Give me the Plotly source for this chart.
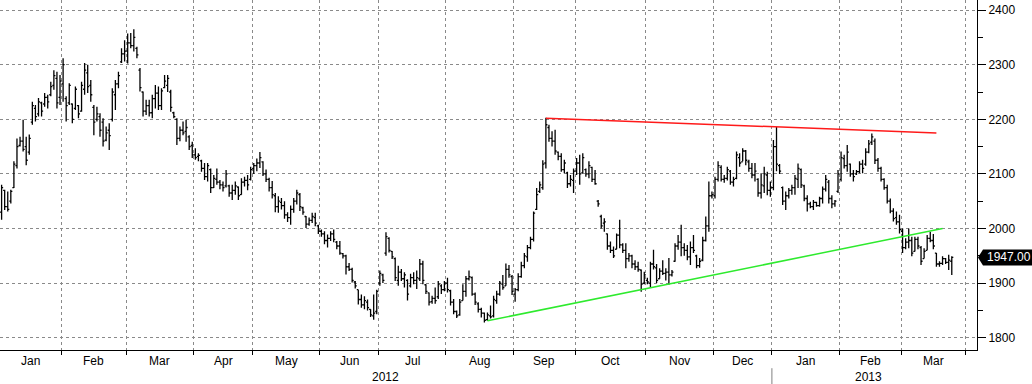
import pandas as pd
import plotly.graph_objects as go

# ---------------- data (LME-style daily OHLC) ----------------
first_day = "2012-01-04"
last_day = "2013-03-25"
uk_holidays = ["2012-04-06", "2012-04-09", "2012-05-07", "2012-06-04", "2012-06-05",
               "2012-08-27", "2012-12-25", "2012-12-26", "2013-01-01"]

open_ = [
    2030,2070,2040,2050,2075,2115,2152,2160,2150,2140,2195,2220,2210,2230,2228,2240,2245,2262,2275,2240,
    2265,2238,2230,2228,2220,2225,2215,2255,2285,2262,2222,2200,2205,2195,2162,2180,2200,2245,2265,2305,2320,
    2325,2340,2335,2330,2290,2250,2215,2225,2212,2238,2248,2225,2258,2262,2250,2212,2200,2165,2180,2178,2168,2152,
    2135,2132,2124,2110,2095,2108,2075,2090,2085,2080,2078,2078,2065,2070,2076,2062,2085,2088,2090,
    2110,2115,2120,2122,2100,2090,2075,2060,2040,2048,2042,2025,2020,2035,2050,2062,2038,2022,2008,2015,2020,2005,
    1995,1990,1978,1982,1990,1975,1968,1954,1950,1930,1925,1902,1888,1870,1860,1865,1852,1840,1848,
    1900,1915,1955,1982,1958,1945,1905,1920,1908,1905,1895,1910,1905,1908,1935,1897,1882,1866,1872,1875,1895,1888,
    1900,1886,1865,1848,1842,1868,1885,1908,1910,1880,1862,1852,1845,1833,1840,1840,1868,1880,1898,1895,1925,1912,
    1880,1888,1912,1932,1948,1965,1980,2035,2068,2075,2120,2185,2165,2160,2140,2132,2108,2102,2082,2088,
    2105,2120,2102,2108,2100,2112,2090,2050,2022,2010,1990,1968,1960,1962,1988,1970,1960,1945,1950,1935,1930,1924,1900,
    1905,1900,1935,1928,1908,1922,1918,1920,1915,1940,1968,1975,1965,1960,1948,1965,1950,1932,1942,1978,2005,2060,
    2060,2090,2112,2090,2092,2105,2085,2092,2130,2122,2142,2122,2110,2098,2090,2065,2078,2098,2070,
    2075,2150,2115,2075,2050,2060,2070,2075,2090,2108,2078,2055,2045,2040,2048,2042,2055,2072,2085,2055,2045,2068,
    2090,2128,2115,2118,2100,2100,2104,2118,2118,2140,2158,2160,2125,2110,2090,2075,2050,2032,2020,2012,
    1995,1965,1975,1978,1958,1980,1965,1945,1960,1982,1978,1955,1935,1936,1945,1938,1940,
]
high = [
    2080,2071,2068,2071,2123,2165,2168,2199,2168,2172,2232,2226,2239,2232,2248,2245,2269,2290,2287,2281,
    2312,2242,2266,2229,2260,2226,2269,2303,2300,2272,2226,2223,2211,2202,2187,2193,2257,2272,2287,2330,2345,
    2357,2358,2365,2333,2294,2251,2236,2236,2245,2263,2260,2257,2281,2281,2254,2214,2202,2187,2196,2199,2171,2159,
    2147,2138,2126,2120,2120,2110,2098,2110,2089,2086,2107,2080,2080,2086,2077,2092,2095,2098,2113,
    2120,2128,2140,2123,2108,2093,2087,2065,2059,2056,2050,2030,2042,2056,2071,2065,2040,2023,2020,2029,2029,2007,
    1998,1995,1989,1995,1998,1977,1977,1955,1952,1937,1928,1904,1888,1879,1876,1870,1852,1879,1888,
    1923,1917,1993,1984,1959,1947,1932,1926,1920,1907,1917,1920,1923,1944,1941,1898,1883,1877,1892,1904,1898,1904,
    1910,1888,1871,1850,1871,1898,1913,1923,1912,1883,1865,1855,1846,1846,1859,1877,1886,1904,1915,1936,1933,1915,
    1891,1918,1939,1955,1970,1985,2031,2074,2086,2125,2203,2190,2178,2181,2141,2138,2126,2104,2098,2110,
    2129,2135,2138,2110,2123,2113,2107,2052,2025,2019,1991,1976,1967,1991,2016,1973,1973,1955,1952,1942,1939,1925,1921,
    1910,1939,1961,1935,1927,1942,1927,1946,1924,1973,1988,2007,1973,1970,1976,1988,1952,1946,1985,2022,2086,2068,
    2095,2123,2116,2098,2113,2107,2095,2141,2138,2147,2144,2126,2120,2120,2092,2101,2113,2104,2086,
    2162,2186,2118,2077,2068,2074,2080,2098,2119,2110,2080,2061,2049,2052,2049,2058,2077,2098,2089,2061,2052,2107,
    2141,2135,2153,2119,2107,2107,2123,2126,2147,2162,2174,2165,2129,2113,2092,2080,2055,2037,2031,2025,
    2000,1982,2000,1985,1985,1985,1968,1964,1988,1994,1990,1955,1940,1949,1946,1952,1949,
]
low = [
    2016,2034,2031,2046,2074,2110,2150,2141,2116,2135,2190,2196,2205,2205,2223,2220,2242,2254,2220,2226,
    2232,2196,2226,2193,2217,2202,2214,2245,2248,2232,2171,2196,2168,2150,2160,2144,2196,2217,2257,2303,2306,
    2302,2330,2324,2312,2251,2205,2208,2205,2202,2220,2217,2217,2257,2250,2214,2202,2153,2160,2171,2159,2144,2129,
    2126,2123,2104,2089,2086,2065,2074,2080,2072,2068,2075,2058,2052,2062,2052,2062,2077,2070,2088,
    2100,2105,2111,2096,2085,2068,2055,2030,2029,2035,2018,2012,2007,2029,2044,2032,2025,2001,2005,2010,2004,1990,
    1985,1971,1965,1977,1975,1962,1952,1945,1916,1922,1901,1890,1861,1855,1852,1850,1838,1833,1843,
    1895,1900,1950,1956,1944,1904,1895,1904,1892,1868,1892,1898,1889,1904,1898,1880,1859,1862,1862,1871,1880,1885,
    1883,1859,1843,1836,1840,1868,1875,1905,1877,1860,1846,1837,1828,1831,1835,1837,1862,1877,1888,1895,1910,1878,
    1866,1885,1910,1927,1939,1962,1976,2034,2065,2071,2110,2159,2150,2135,2125,2104,2101,2074,2077,2065,
    2098,2080,2101,2095,2092,2085,2080,2040,2000,1994,1961,1955,1946,1962,1964,1955,1927,1939,1927,1924,1921,1884,1898,
    1898,1891,1925,1900,1908,1915,1905,1897,1912,1939,1961,1949,1950,1942,1933,1955,1927,1928,1940,1976,1994,2055,
    2055,2086,2086,2084,2088,2080,2077,2090,2113,2123,2116,2104,2092,2086,2058,2055,2065,2061,2058,
    2070,2105,2100,2043,2034,2055,2062,2062,2074,2074,2050,2031,2037,2034,2040,2040,2046,2068,2046,2037,2040,2065,
    2086,2110,2104,2095,2086,2098,2101,2101,2115,2138,2153,2118,2104,2086,2071,2046,2028,2013,2007,1991,
    1955,1962,1964,1949,1958,1962,1933,1945,1960,1975,1962,1930,1930,1933,1935,1924,1915,
]
close = [
    2075,2040,2035,2068,2118,2150,2160,2145,2125,2165,2225,2205,2232,2215,2240,2232,2260,2280,2230,2270,
    2300,2225,2262,2200,2255,2210,2262,2290,2260,2245,2195,2210,2180,2160,2175,2170,2250,2265,2280,2320,2325,
    2340,2335,2350,2318,2258,2215,2225,2212,2238,2248,2225,2252,2270,2275,2222,2205,2165,2180,2175,2185,2150,2135,
    2130,2134,2110,2095,2115,2075,2092,2085,2080,2075,2100,2065,2070,2078,2060,2085,2088,2080,2108,
    2115,2120,2130,2100,2090,2075,2062,2040,2050,2042,2025,2020,2035,2050,2065,2040,2030,2008,2015,2022,2010,1995,
    1990,1978,1982,1990,1980,1968,1955,1950,1930,1925,1905,1895,1870,1860,1868,1855,1842,1845,1885,
    1918,1905,1985,1960,1948,1910,1920,1908,1915,1880,1910,1905,1910,1935,1905,1885,1865,1872,1868,1898,1888,1900,
    1888,1865,1848,1840,1865,1885,1908,1912,1880,1865,1852,1845,1832,1842,1838,1870,1880,1900,1892,1925,1915,1885,
    1888,1912,1932,1950,1965,1980,2028,2062,2080,2118,2190,2165,2160,2142,2132,2108,2120,2082,2090,2105,
    2120,2100,2130,2100,2115,2090,2082,2045,2005,2012,1968,1960,1950,1988,1970,1960,1945,1950,1935,1930,1925,1898,1915,
    1902,1935,1930,1905,1922,1918,1920,1915,1920,1968,1975,1965,1960,1948,1965,1960,1932,1940,1978,2005,2060,2062,
    2090,2115,2090,2092,2108,2085,2090,2135,2120,2142,2125,2110,2098,2105,2065,2080,2100,2070,2075,
    2150,2118,2105,2050,2060,2070,2075,2092,2110,2080,2055,2045,2040,2048,2042,2055,2072,2090,2055,2045,2050,2100,
    2130,2115,2140,2100,2095,2104,2118,2110,2140,2155,2168,2125,2110,2090,2075,2050,2032,2018,2012,1998,
    1965,1975,1978,1955,1980,1968,1940,1958,1982,1978,1968,1935,1936,1945,1938,1942,1947,
]

month_labels = ["Jan", "Feb", "Mar", "Apr", "May", "Jun", "Jul", "Aug", "Sep", "Oct",
                "Nov", "Dec", "Jan", "Feb", "Mar"]
year_labels = ["2012", "2013"]
y_ticks = [1800, 1900, 2000, 2100, 2200, 2300, 2400]

red_trend_dates = ["2012-09-17", "2013-03-18"]
red_trend_values = [2202, 2175]
green_trend_dates = ["2012-08-20", "2013-03-20"]
green_trend_values = [1831, 2000]

# ---------------- calendar / axis helpers ----------------
dates = pd.bdate_range(first_day, last_day, freq="C", holidays=uk_holidays)
future = pd.bdate_range("2013-03-26", "2013-04-30")
calendar = dates.append(future)
pos = {d: i for i, d in enumerate(calendar)}
n = min(len(close), len(open_), len(high), len(low))
x = list(range(n))

x_left, x_right = -0.52, 317.2
y_lo, y_hi = 1777.5, 2418.5
px_per_day = 976.7 / (x_right - x_left)

bounds = [i - 0.5 for i in range(1, len(calendar))
          if calendar[i].month != calendar[i - 1].month]
edges = [x_left] + bounds
month_centers = [(edges[k] + edges[k + 1]) / 2 for k in range(len(month_labels))]
year_break = [b for b in bounds if calendar[int(b + 0.5)].year != calendar[int(b - 0.5)].year][0]
year_centers = [(x_left + year_break) / 2, (year_break + bounds[len(month_labels) - 1]) / 2]

def xpaper(v):
    return (v - x_left) / (x_right - x_left)

def ypaper(v):
    return (v - y_lo) / (y_hi - y_lo)

FONT = "Liberation Sans, Arial, sans-serif"
GRID = "#8a8a8a"

fig = go.Figure()
fig.add_trace(go.Ohlc(
    x=x, open=open_[:n], high=high[:n], low=low[:n], close=close[:n],
    increasing=dict(line=dict(color="black", width=1.3)),
    decreasing=dict(line=dict(color="black", width=1.3)),
    tickwidth=0.5, showlegend=False, hoverinfo="skip",
))
fig.add_trace(go.Scatter(
    x=[pos[pd.Timestamp(d)] for d in red_trend_dates], y=red_trend_values,
    mode="lines", line=dict(color="#ff1a1a", width=1.5), showlegend=False, hoverinfo="skip",
))
fig.add_trace(go.Scatter(
    x=[pos[pd.Timestamp(d)] for d in green_trend_dates], y=green_trend_values,
    mode="lines", line=dict(color="#2eea2e", width=1.5), showlegend=False, hoverinfo="skip",
))
# arrow-head tick markers on the right axis (Bloomberg style)
fig.add_trace(go.Scatter(
    x=[x_right + 5.5 / px_per_day] * len(y_ticks), y=y_ticks, mode="markers",
    marker=dict(symbol="triangle-right", size=7, color="black", line=dict(width=0)),
    cliponaxis=False, showlegend=False, hoverinfo="skip",
))

fig.update_layout(
    width=1032, height=384,
    margin=dict(l=0, r=55, t=0, b=34, pad=0),
    paper_bgcolor="white", plot_bgcolor="white",
    font=dict(family=FONT, size=12, color="black"),
    showlegend=False,
)
fig.update_xaxes(
    range=[x_left, x_right], tickmode="array", tickvals=bounds, showticklabels=False,
    ticks="outside", ticklen=4, tickcolor="black", tickwidth=1,
    showgrid=True, gridcolor=GRID, griddash="dot", gridwidth=1,
    showline=True, linecolor="black", linewidth=1, zeroline=False,
    rangeslider=dict(visible=False), fixedrange=True,
)
fig.update_yaxes(
    side="right", range=[y_lo, y_hi], tickmode="array", tickvals=y_ticks,
    ticktext=[str(v) for v in y_ticks],
    ticks="outside", ticklen=8, tickwidth=1, tickcolor="black",
    tickfont=dict(family=FONT, size=12, color="black"),
    showgrid=True, gridcolor=GRID, griddash="dot", gridwidth=1,
    showline=True, linecolor="black", linewidth=1, zeroline=False,
    minor=dict(tickmode="linear", tick0=1850, dtick=100, ticks="outside", ticklen=5,
               tickcolor="black", tickwidth=1, showgrid=False),
    fixedrange=True,
)

# month labels
for c, lab in zip(month_centers, month_labels):
    fig.add_annotation(x=xpaper(c), y=-0.031, xref="paper", yref="paper", text=lab,
                       showarrow=False, xanchor="center", yanchor="middle",
                       font=dict(family=FONT, size=12, color="black"))
for c, lab in zip(year_centers, year_labels):
    fig.add_annotation(x=xpaper(c), y=-0.076, xref="paper", yref="paper", text=lab,
                       showarrow=False, xanchor="center", yanchor="middle",
                       font=dict(family=FONT, size=12, color="black"))
# year separator below the axis
fig.add_shape(type="line", xref="paper", yref="paper",
              x0=xpaper(year_break), x1=xpaper(year_break), y0=-0.052, y1=-0.11,
              line=dict(color="#808080", width=1))

# last-price tag
last = close[n - 1]
fig.add_shape(type="path", xref="paper", yref="paper", xsizemode="pixel", ysizemode="pixel",
              xanchor=1, yanchor=ypaper(last),
              path="M 1 0 L 6 8 L 56 8 L 56 -8 L 6 -8 Z",
              fillcolor="black", line=dict(width=0), layer="above")
fig.add_annotation(x=1, y=ypaper(last), xref="paper", yref="paper", text=f"{last:.2f}",
                   showarrow=False, xanchor="left", yanchor="middle", xshift=8,
                   font=dict(family=FONT, size=12, color="white"))

fig.write_html("out.html", config={"displayModeBar": False},
               post_script="document.body.style.margin='0';document.body.style.overflow='hidden';")
